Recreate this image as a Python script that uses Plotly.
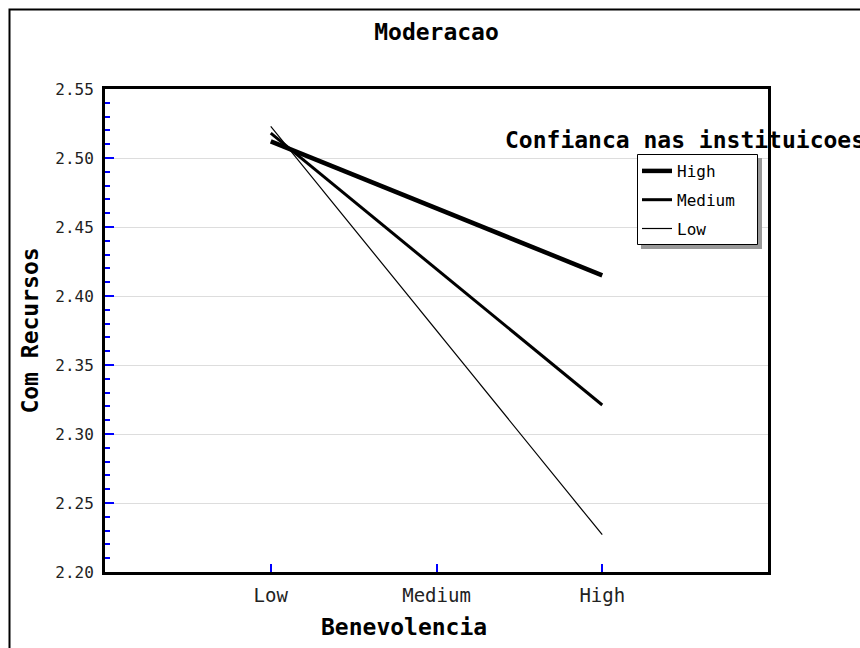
import plotly.graph_objects as go

# ---- data ----
categories = ["Low", "Medium", "High"]          # Benevolencia levels
series_names = ["High", "Medium", "Low"]       # Confianca nas instituicoes
values_high = [2.512, None, 2.415]
values_medium = [2.518, None, 2.321]
values_low = [2.523, None, 2.227]
line_widths = [4.5, 3, 1.2]

W, H = 860, 648
L, R, T, B = 105, 92, 89, 76
PW, PH = W - L - R, H - T - B

def px_x(p):
    return (p - L) / PW

def px_y(p):
    return (H - B - p) / PH

MONO = "DejaVu Sans Mono"
BIG = 23

fig = go.Figure()
for name, vals, lw in zip(series_names, [values_high, values_medium, values_low], line_widths):
    xs = [c for c, v in zip(categories, vals) if v is not None]
    ys = [v for v in vals if v is not None]
    fig.add_trace(go.Scatter(
        x=xs, y=ys, mode="lines", name=name, legendgroup=name,
        line=dict(color="black", width=lw),
    ))

fig.update_layout(
    width=W, height=H,
    margin=dict(l=L, r=R, t=T, b=B),
    paper_bgcolor="white", plot_bgcolor="white",
    font=dict(family=MONO, color="black"),
    title=dict(text="<b>Moderacao</b>", x=0.5, xref="paper", xanchor="center",
               y=1 - 32 / H, yref="container", yanchor="middle",
               font=dict(family=MONO, size=BIG, color="black")),
    showlegend=True,
    legend=dict(
        x=px_x(637), y=px_y(154), xanchor="left", yanchor="top",
        xref="paper", yref="paper",
        bgcolor="rgba(0,0,0,0)", borderwidth=0,
        font=dict(family=MONO, size=16, color="black"),
        tracegroupgap=5, traceorder="grouped",
    ),
    xaxis=dict(
        type="category", categoryorder="array", categoryarray=categories,
        range=[-1, 3],
        showline=True, linecolor="black", linewidth=3, mirror=True,
        showgrid=False, zeroline=False,
        ticks="inside", ticklen=8, tickwidth=1.5, tickcolor="blue",
        tickfont=dict(family=MONO, size=19, color="#222"),
        ticklabelstandoff=4,
    ),
    yaxis=dict(
        range=[2.2, 2.55], dtick=0.05, tick0=2.2, tickformat=".2f",
        showline=True, linecolor="black", linewidth=3, mirror=True,
        showgrid=True, gridcolor="#dddddd", gridwidth=1, zeroline=False,
        ticks="inside", ticklen=9, tickwidth=1.5, tickcolor="blue",
        minor=dict(dtick=0.01, ticks="inside", ticklen=5, tickwidth=1.5, tickcolor="blue", showgrid=False),
        tickfont=dict(family=MONO, size=16, color="#222"),
        ticklabelstandoff=5,
        title=dict(text="<b>Com Recursos</b>", font=dict(family=MONO, size=BIG, color="black"), standoff=11),
    ),
    shapes=[
        # outer frame
        dict(type="rect", xref="paper", yref="paper",
             x0=px_x(9.5), x1=px_x(W + 20), y0=px_y(H + 20), y1=px_y(9.5),
             line=dict(color="black", width=2), fillcolor="rgba(0,0,0,0)", layer="below"),
        # legend shadow
        dict(type="rect", xref="paper", yref="paper",
             x0=px_x(641), x1=px_x(762), y0=px_y(249), y1=px_y(158),
             line=dict(width=0), fillcolor="#999999", layer="above"),
        # legend box
        dict(type="rect", xref="paper", yref="paper",
             x0=px_x(637.5), x1=px_x(757.5), y0=px_y(244.5), y1=px_y(154.5),
             line=dict(color="black", width=1), fillcolor="white", layer="above"),
    ],
    annotations=[
        dict(text="<b>Confianca nas instituicoes</b>", xref="paper", yref="paper",
             x=px_x(503), y=px_y(140), xanchor="left", yanchor="middle",
             showarrow=False, font=dict(family=MONO, size=BIG, color="black")),
        dict(text="<b>Benevolencia</b>", xref="paper", yref="paper",
             x=px_x(404), y=px_y(627), xanchor="center", yanchor="middle",
             showarrow=False, font=dict(family=MONO, size=BIG, color="black")),
    ],
)

fig.write_html("out.html")
